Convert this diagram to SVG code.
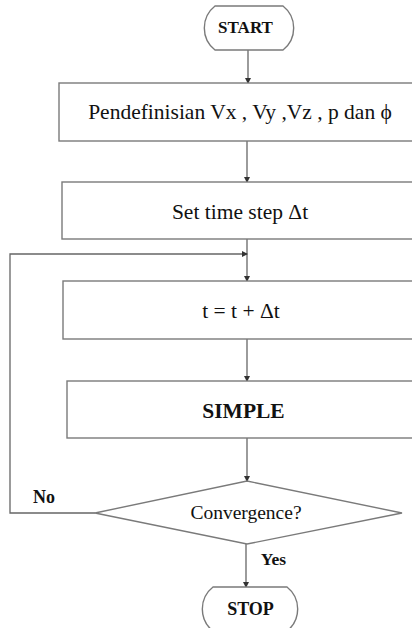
<svg xmlns="http://www.w3.org/2000/svg" width="412" height="628" viewBox="0 0 412 628">
<style>
.box{fill:#fff;stroke:#7a7a7a;stroke-width:1.4}
.ln{fill:none;stroke:#666;stroke-width:1.3}
.t{font-family:"Liberation Serif","Times New Roman",serif;font-size:21.5px;fill:#111;text-anchor:middle}
.b{font-weight:bold}
</style>
<defs>
<marker id="ah" markerWidth="6" markerHeight="6" refX="5" refY="3" orient="auto" markerUnits="userSpaceOnUse">
<path d="M0,0 L6,3 L0,6 Z" fill="#333"/>
</marker>
</defs>
<g id="connectors">
<line class="ln" x1="248" y1="50" x2="248" y2="83" marker-end="url(#ah)"/>
<line class="ln" x1="247" y1="141" x2="247" y2="182" marker-end="url(#ah)"/>
<line class="ln" x1="247" y1="239" x2="247" y2="281" marker-end="url(#ah)"/>
<polyline class="ln" points="95,513 10,513 10,254 247,254" marker-end="url(#ah)"/>
<line class="ln" x1="247" y1="339" x2="247" y2="381" marker-end="url(#ah)"/>
<line class="ln" x1="247" y1="438" x2="247" y2="481" marker-end="url(#ah)"/>
<line class="ln" x1="246" y1="544" x2="246" y2="587" marker-end="url(#ah)"/>
<text class="t b" x="44" y="503" style="font-size:18px">No</text>
<text class="t b" x="273.5" y="565" style="font-size:17.5px">Yes</text>
</g>
<g id="start">
<path class="box" d="M215,6 H283 A28,28 0 0 1 283,50 H215 A28,28 0 0 1 215,6 Z"/>
<text class="t b" x="245.5" y="33" style="font-size:17px">START</text>
</g>
<g id="define">
<rect class="box" x="59" y="83" width="370" height="58"/>
<text class="t" x="240" y="119">Pendefinisian Vx , Vy ,Vz , p dan ϕ</text>
</g>
<g id="timestep">
<rect class="box" x="62" y="182" width="370" height="57"/>
<text class="t" x="240" y="219">Set time step Δt</text>
</g>
<g id="update">
<rect class="box" x="63" y="281" width="370" height="58"/>
<text class="t" x="241" y="318">t = t + Δt</text>
</g>
<g id="simple">
<rect class="box" x="67" y="381" width="370" height="57"/>
<text class="t b" x="243.5" y="418">SIMPLE</text>
</g>
<g id="convergence">
<polygon class="box" points="247,481 402,513 247,544 95,513"/>
<text class="t" x="246" y="519" style="font-size:19.5px">Convergence?</text>
</g>
<g id="stop">
<path class="box" d="M213,587 H287 A28,28 0 0 1 287,631 H213 A28,28 0 0 1 213,587 Z"/>
<text class="t b" x="250.5" y="615" style="font-size:18px">STOP</text>
</g>
</svg>
